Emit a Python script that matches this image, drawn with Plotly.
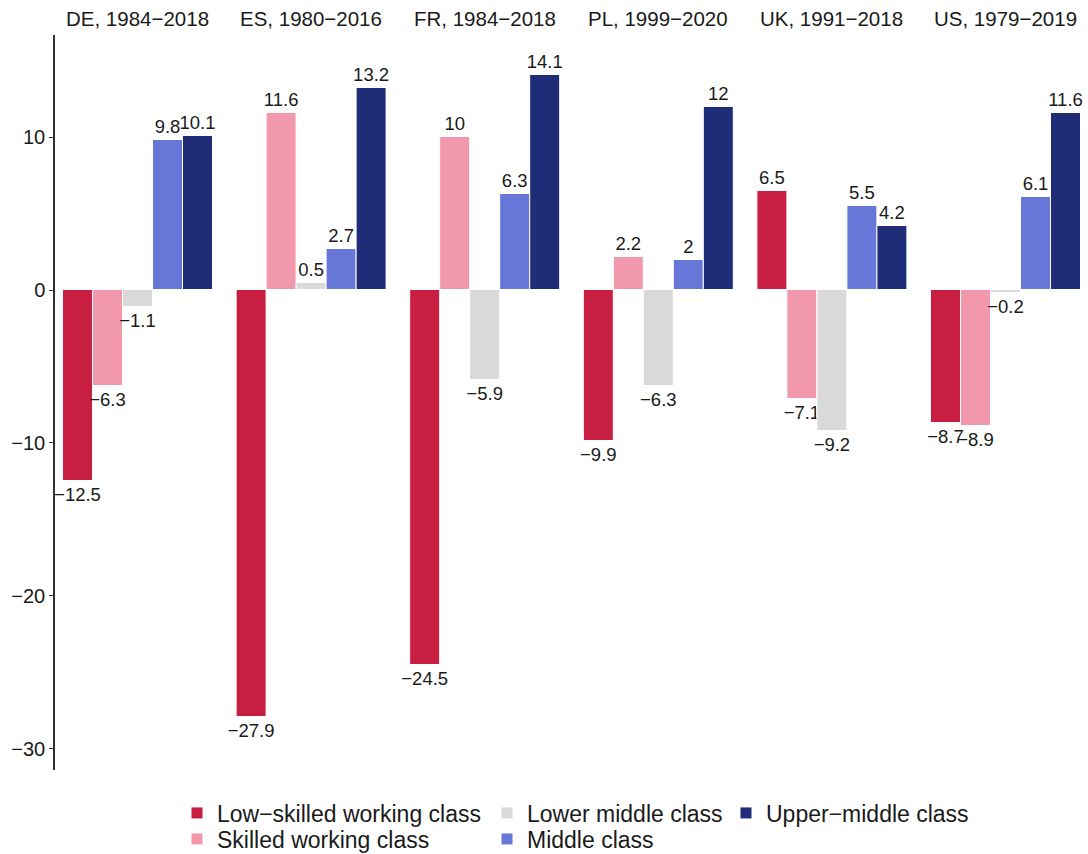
import plotly.graph_objects as go

facets = ["DE, 1984−2018", "ES, 1980−2016", "FR, 1984−2018",
          "PL, 1999−2020", "UK, 1991−2018", "US, 1979−2019"]
classes = ["Low−skilled working class", "Skilled working class",
           "Lower middle class", "Middle class", "Upper−middle class"]
low_skilled = [-12.5, -27.9, -24.5, -9.9, 6.5, -8.7]
skilled = [-6.3, 11.6, 10, 2.2, -7.1, -8.9]
lower_middle = [-1.1, 0.5, -5.9, -6.3, -9.2, -0.2]
middle = [9.8, 2.7, 6.3, 2, 5.5, 6.1]
upper_middle = [10.1, 13.2, 14.1, 12, 4.2, 11.6]
yticks = [-30, -20, -10, 0, 10]

series = [low_skilled, skilled, lower_middle, middle, upper_middle]
colors = ["#C81E42", "#F198AC", "#D9D9D9", "#6677D8", "#1F2C78"]
legend_ids = ["legend", "legend2", "legend3", "legend4", "legend5"]
# legend entry placement (text start x px, row centre y px)
legend_pos = [(219, 813), (219, 839), (529, 813), (529, 839), (768, 813)]

W, H = 1088, 854
ML, MR, MT, MB = 55, 0, 35, 84
pw_px = W - ML - MR
ph_px = H - MT - MB
panel_w = 165.0
pitch = 173.6
FONT = "Liberation Sans"
TXT = "#1a1a1a"

def fmt(v):
    s = f"{abs(v):g}"
    return ("−" + s) if v < 0 else s

fig = go.Figure()
for f in range(len(facets)):
    xa = "x" if f == 0 else f"x{f+1}"
    for k, cls in enumerate(classes):
        v = series[k][f]
        fig.add_trace(go.Bar(
            x=[cls], y=[v], xaxis=xa, yaxis="y",
            name=cls, legend=legend_ids[k], legendgroup=cls,
            showlegend=(f == 0),
            marker=dict(color=colors[k], line=dict(color="white", width=1)),
            text=[fmt(v)], textposition="outside", constraintext="none",
            textfont=dict(size=18.5, color=TXT, family=FONT),
            cliponaxis=False, hoverinfo="x+y",
        ))

layout = dict(
    width=W, height=H,
    margin=dict(l=ML, r=MR, t=MT, b=MB, autoexpand=False),
    paper_bgcolor="white", plot_bgcolor="white",
    barmode="overlay", bargap=0,
    font=dict(family=FONT, size=20, color=TXT),
    yaxis=dict(range=[-31.4, 16.7], anchor="x", tickvals=yticks,
               showline=True, linecolor="#333333", linewidth=1.5,
               ticks="outside", ticklen=4, tickcolor="#333333", tickwidth=1,
               showgrid=False, zeroline=False, automargin=False,
               tickfont=dict(size=20, color=TXT)),
)
annotations = []
for f in range(len(facets)):
    left = f * pitch / pw_px
    right = min((f * pitch + panel_w) / pw_px, 1.0)
    key = "xaxis" if f == 0 else f"xaxis{f+1}"
    layout[key] = dict(domain=[left, right], anchor="y", type="category",
                       categoryorder="array", categoryarray=classes,
                       range=[-0.75, 4.75], visible=False, fixedrange=True,
                       automargin=False)
    annotations.append(dict(text=facets[f], x=(left + right) / 2, xref="paper",
                            y=1 + (MT - 18) / ph_px, yref="paper", showarrow=False,
                            xanchor="center", yanchor="middle",
                            font=dict(size=20.5, color=TXT)))
layout["annotations"] = annotations

for lid, (tx, cy) in zip(legend_ids, legend_pos):
    layout[lid] = dict(orientation="v", xref="container", yref="container",
                       x=(tx - 42) / W, xanchor="left",
                       y=1 - cy / H, yanchor="middle",
                       font=dict(size=23, color=TXT),
                       bgcolor="rgba(0,0,0,0)", borderwidth=0,
                       itemclick=False, itemdoubleclick=False)

fig.update_layout(**layout)
fig.write_html("out.html",
               config={"displayModeBar": False},
               post_script="document.body.style.margin='0px';"
                           "document.body.style.overflow='hidden';")
